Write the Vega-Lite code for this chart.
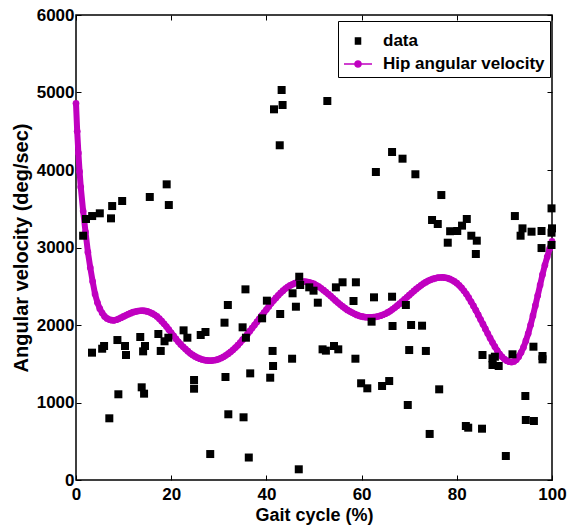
{
  "$schema": "https://vega.github.io/schema/vega-lite/v6.json",
  "width": 476,
  "height": 465,
  "autosize": {"type": "none"},
  "padding": {"left": 76, "top": 15, "right": 23, "bottom": 51},
  "background": "white",
  "config": {
    "view": {"stroke": "black", "strokeWidth": 1.5},
    "font": "Liberation Sans",
    "axis": {"labelFont": "Liberation Sans", "titleFont": "Liberation Sans", "labelFontWeight": "bold", "titleFontWeight": "bold", "labelColor": "black", "titleColor": "black", "tickColor": "black", "tickWidth": 1, "grid": false, "domain": false, "labelFlush": false, "labelOverlap": false}
  },
  "datasets": {
    "pts": [
      {"x": 1.5, "y": 3152}, {"x": 2.1, "y": 3368}, {"x": 3.4, "y": 3406}, {"x": 5.0, "y": 3441}, {"x": 7.35, "y": 3376},
      {"x": 7.6, "y": 3535}, {"x": 9.7, "y": 3600}, {"x": 15.5, "y": 3652}, {"x": 19.05, "y": 3815}, {"x": 19.5, "y": 3548},
      {"x": 43.2, "y": 5032}, {"x": 43.4, "y": 4839}, {"x": 41.6, "y": 4783}, {"x": 52.8, "y": 4890}, {"x": 42.8, "y": 4319},
      {"x": 66.4, "y": 4232}, {"x": 68.6, "y": 4146}, {"x": 63.0, "y": 3974}, {"x": 71.3, "y": 3945}, {"x": 76.75, "y": 3677},
      {"x": 74.8, "y": 3355}, {"x": 76.0, "y": 3303}, {"x": 78.6, "y": 3210}, {"x": 78.1, "y": 3062}, {"x": 82.1, "y": 3368},
      {"x": 81.1, "y": 3282}, {"x": 80.1, "y": 3213}, {"x": 83.05, "y": 3152}, {"x": 84.2, "y": 3088}, {"x": 92.2, "y": 3406},
      {"x": 93.8, "y": 3247}, {"x": 93.4, "y": 3152}, {"x": 95.7, "y": 3204}, {"x": 97.8, "y": 3213}, {"x": 99.9, "y": 3505},
      {"x": 100, "y": 3247}, {"x": 99.9, "y": 3191}, {"x": 97.8, "y": 2993}, {"x": 99.9, "y": 3032}, {"x": 84.0, "y": 2916},
      {"x": 69.3, "y": 2258}, {"x": 70.4, "y": 2000}, {"x": 72.7, "y": 1991}, {"x": 70.0, "y": 1677}, {"x": 73.5, "y": 1665},
      {"x": 85.4, "y": 1613}, {"x": 87.5, "y": 1570}, {"x": 88.0, "y": 1591}, {"x": 87.5, "y": 1484}, {"x": 88.8, "y": 1471},
      {"x": 91.7, "y": 1622}, {"x": 96.1, "y": 1720}, {"x": 98.0, "y": 1600}, {"x": 98.0, "y": 1557}, {"x": 76.3, "y": 1170},
      {"x": 69.7, "y": 968}, {"x": 94.4, "y": 1084}, {"x": 74.3, "y": 594}, {"x": 81.9, "y": 697}, {"x": 82.4, "y": 675},
      {"x": 85.3, "y": 662}, {"x": 94.5, "y": 774}, {"x": 96.2, "y": 761}, {"x": 90.3, "y": 310}, {"x": 46.9, "y": 2623},
      {"x": 47.1, "y": 2516}, {"x": 56.0, "y": 2551}, {"x": 58.8, "y": 2551}, {"x": 54.6, "y": 2486}, {"x": 49.0, "y": 2486},
      {"x": 49.9, "y": 2443}, {"x": 45.5, "y": 2409}, {"x": 40.1, "y": 2314}, {"x": 50.8, "y": 2288}, {"x": 46.2, "y": 2236},
      {"x": 62.6, "y": 2357}, {"x": 66.4, "y": 2365}, {"x": 58.3, "y": 2310}, {"x": 42.9, "y": 2142}, {"x": 39.1, "y": 2086},
      {"x": 62.1, "y": 2043}, {"x": 66.5, "y": 1987}, {"x": 41.3, "y": 1665}, {"x": 41.4, "y": 1471}, {"x": 40.8, "y": 1320},
      {"x": 45.4, "y": 1565}, {"x": 51.8, "y": 1686}, {"x": 52.5, "y": 1669}, {"x": 54.2, "y": 1729}, {"x": 55.1, "y": 1686},
      {"x": 58.7, "y": 1565}, {"x": 59.9, "y": 1248}, {"x": 61.2, "y": 1183}, {"x": 64.3, "y": 1213}, {"x": 65.8, "y": 1277},
      {"x": 36.6, "y": 1376}, {"x": 36.3, "y": 290}, {"x": 46.8, "y": 138}, {"x": 31.9, "y": 2258}, {"x": 35.6, "y": 2460},
      {"x": 31.2, "y": 2030}, {"x": 35.0, "y": 1970}, {"x": 35.7, "y": 1836}, {"x": 3.36, "y": 1643}, {"x": 5.5, "y": 1694},
      {"x": 5.9, "y": 1729}, {"x": 8.7, "y": 1806}, {"x": 10.3, "y": 1729}, {"x": 10.5, "y": 1613}, {"x": 13.5, "y": 1845},
      {"x": 14.5, "y": 1729}, {"x": 14.1, "y": 1660}, {"x": 17.3, "y": 1884}, {"x": 17.8, "y": 1665}, {"x": 18.6, "y": 1790},
      {"x": 19.4, "y": 1836}, {"x": 22.6, "y": 1931}, {"x": 23.4, "y": 1836}, {"x": 26.2, "y": 1871}, {"x": 27.2, "y": 1910},
      {"x": 24.8, "y": 1290}, {"x": 24.8, "y": 1178}, {"x": 13.8, "y": 1196}, {"x": 14.3, "y": 1114}, {"x": 8.9, "y": 1106},
      {"x": 7.0, "y": 796}, {"x": 31.4, "y": 1329}, {"x": 32.0, "y": 848}, {"x": 35.2, "y": 809}, {"x": 28.2, "y": 335}
    ],
    "curve": [
      {"x": 0, "y": 4860}, {"x": 0.25, "y": 4500}, {"x": 0.5, "y": 4220}, {"x": 0.75, "y": 3980}, {"x": 1, "y": 3780},
      {"x": 1.5, "y": 3470}, {"x": 2, "y": 3200}, {"x": 2.5, "y": 2940}, {"x": 3, "y": 2740}, {"x": 3.5, "y": 2560},
      {"x": 4, "y": 2400}, {"x": 4.5, "y": 2290}, {"x": 5, "y": 2210}, {"x": 5.5, "y": 2155}, {"x": 6, "y": 2110},
      {"x": 6.5, "y": 2085}, {"x": 7, "y": 2070}, {"x": 7.5, "y": 2062}, {"x": 8, "y": 2060}, {"x": 8.5, "y": 2068},
      {"x": 9, "y": 2080}, {"x": 9.5, "y": 2095}, {"x": 10, "y": 2110}, {"x": 10.5, "y": 2125}, {"x": 11, "y": 2140},
      {"x": 11.5, "y": 2153}, {"x": 12, "y": 2165}, {"x": 12.5, "y": 2173}, {"x": 13, "y": 2180}, {"x": 13.5, "y": 2184},
      {"x": 14, "y": 2185}, {"x": 14.5, "y": 2181}, {"x": 15, "y": 2175}, {"x": 15.5, "y": 2164}, {"x": 16, "y": 2150},
      {"x": 16.5, "y": 2132}, {"x": 17, "y": 2110}, {"x": 17.5, "y": 2082}, {"x": 18, "y": 2050}, {"x": 18.5, "y": 2016},
      {"x": 19, "y": 1980}, {"x": 19.5, "y": 1940}, {"x": 20, "y": 1900}, {"x": 20.5, "y": 1860}, {"x": 21, "y": 1820},
      {"x": 21.5, "y": 1784}, {"x": 22, "y": 1750}, {"x": 22.5, "y": 1719}, {"x": 23, "y": 1690}, {"x": 23.5, "y": 1662},
      {"x": 24, "y": 1635}, {"x": 24.5, "y": 1614}, {"x": 25, "y": 1595}, {"x": 25.5, "y": 1579}, {"x": 26, "y": 1565},
      {"x": 26.5, "y": 1555}, {"x": 27, "y": 1548}, {"x": 27.5, "y": 1543}, {"x": 28, "y": 1540}, {"x": 28.5, "y": 1541},
      {"x": 29, "y": 1545}, {"x": 29.5, "y": 1551}, {"x": 30, "y": 1560}, {"x": 30.5, "y": 1574}, {"x": 31, "y": 1590},
      {"x": 31.5, "y": 1609}, {"x": 32, "y": 1630}, {"x": 32.5, "y": 1654}, {"x": 33, "y": 1680}, {"x": 33.5, "y": 1709},
      {"x": 34, "y": 1740}, {"x": 34.5, "y": 1774}, {"x": 35, "y": 1810}, {"x": 35.5, "y": 1845}, {"x": 36, "y": 1880},
      {"x": 36.5, "y": 1920}, {"x": 37, "y": 1960}, {"x": 37.5, "y": 2000}, {"x": 38, "y": 2040}, {"x": 38.5, "y": 2080},
      {"x": 39, "y": 2120}, {"x": 39.5, "y": 2160}, {"x": 40, "y": 2200}, {"x": 40.5, "y": 2240}, {"x": 41, "y": 2280},
      {"x": 41.5, "y": 2316}, {"x": 42, "y": 2350}, {"x": 42.5, "y": 2383}, {"x": 43, "y": 2415}, {"x": 43.5, "y": 2443},
      {"x": 44, "y": 2470}, {"x": 44.5, "y": 2491}, {"x": 45, "y": 2510}, {"x": 45.5, "y": 2526}, {"x": 46, "y": 2540},
      {"x": 46.5, "y": 2548}, {"x": 47, "y": 2555}, {"x": 47.5, "y": 2558}, {"x": 48, "y": 2560}, {"x": 48.5, "y": 2556},
      {"x": 49, "y": 2550}, {"x": 49.5, "y": 2541}, {"x": 50, "y": 2530}, {"x": 50.5, "y": 2513}, {"x": 51, "y": 2495},
      {"x": 51.5, "y": 2473}, {"x": 52, "y": 2450}, {"x": 52.5, "y": 2425}, {"x": 53, "y": 2400}, {"x": 53.5, "y": 2373},
      {"x": 54, "y": 2345}, {"x": 54.5, "y": 2317}, {"x": 55, "y": 2290}, {"x": 55.5, "y": 2264}, {"x": 56, "y": 2240},
      {"x": 56.5, "y": 2217}, {"x": 57, "y": 2195}, {"x": 57.5, "y": 2177}, {"x": 58, "y": 2160}, {"x": 58.5, "y": 2144},
      {"x": 59, "y": 2130}, {"x": 59.5, "y": 2119}, {"x": 60, "y": 2110}, {"x": 60.5, "y": 2104}, {"x": 61, "y": 2100},
      {"x": 61.5, "y": 2099}, {"x": 62, "y": 2100}, {"x": 62.5, "y": 2102}, {"x": 63, "y": 2105}, {"x": 63.5, "y": 2112},
      {"x": 64, "y": 2120}, {"x": 64.5, "y": 2132}, {"x": 65, "y": 2145}, {"x": 65.5, "y": 2162}, {"x": 66, "y": 2180},
      {"x": 66.5, "y": 2202}, {"x": 67, "y": 2225}, {"x": 67.5, "y": 2250}, {"x": 68, "y": 2275}, {"x": 68.5, "y": 2302},
      {"x": 69, "y": 2330}, {"x": 69.5, "y": 2357}, {"x": 70, "y": 2385}, {"x": 70.5, "y": 2412}, {"x": 71, "y": 2440},
      {"x": 71.5, "y": 2465}, {"x": 72, "y": 2490}, {"x": 72.5, "y": 2513}, {"x": 73, "y": 2535}, {"x": 73.5, "y": 2553},
      {"x": 74, "y": 2570}, {"x": 74.5, "y": 2583}, {"x": 75, "y": 2595}, {"x": 75.5, "y": 2603}, {"x": 76, "y": 2610},
      {"x": 76.5, "y": 2613}, {"x": 77, "y": 2615}, {"x": 77.5, "y": 2611}, {"x": 78, "y": 2605}, {"x": 78.5, "y": 2594},
      {"x": 79, "y": 2580}, {"x": 79.5, "y": 2562}, {"x": 80, "y": 2540}, {"x": 80.5, "y": 2512}, {"x": 81, "y": 2480},
      {"x": 81.5, "y": 2442}, {"x": 82, "y": 2400}, {"x": 82.5, "y": 2352}, {"x": 83, "y": 2300}, {"x": 83.5, "y": 2246},
      {"x": 84, "y": 2190}, {"x": 84.5, "y": 2130}, {"x": 85, "y": 2070}, {"x": 85.5, "y": 2010}, {"x": 86, "y": 1950},
      {"x": 86.5, "y": 1890}, {"x": 87, "y": 1830}, {"x": 87.5, "y": 1774}, {"x": 88, "y": 1720}, {"x": 88.5, "y": 1670},
      {"x": 89, "y": 1625}, {"x": 89.5, "y": 1590}, {"x": 90, "y": 1560}, {"x": 90.5, "y": 1540}, {"x": 91, "y": 1527},
      {"x": 91.5, "y": 1522}, {"x": 92, "y": 1530}, {"x": 92.5, "y": 1553}, {"x": 93, "y": 1590}, {"x": 93.5, "y": 1644},
      {"x": 94, "y": 1710}, {"x": 94.5, "y": 1794}, {"x": 95, "y": 1890}, {"x": 95.5, "y": 2000}, {"x": 96, "y": 2120},
      {"x": 96.5, "y": 2250}, {"x": 97, "y": 2380}, {"x": 97.5, "y": 2515}, {"x": 98, "y": 2650}, {"x": 98.5, "y": 2770},
      {"x": 99, "y": 2880}, {"x": 99.5, "y": 2985}, {"x": 100, "y": 3080}
    ]
  },
  "layer": [
    {
      "data": {"name": "curve"},
      "transform": [{"calculate": "'Hip angular velocity'", "as": "series"}],
      "mark": {"type": "line", "strokeWidth": 6},
      "encoding": {
        "x": {"field": "x", "type": "quantitative", "scale": {"domain": [0, 100], "nice": false},
              "axis": {"orient": "top", "labels": false, "title": null, "tickSize": -5, "values": [0, 20, 40, 60, 80, 100]}},
        "y": {"field": "y", "type": "quantitative", "scale": {"domain": [0, 6000], "nice": false},
              "axis": {"orient": "right", "labels": false, "title": null, "tickSize": -5, "values": [0, 1000, 2000, 3000, 4000, 5000, 6000]}},
        "color": {"field": "series", "type": "nominal", "scale": {"domain": ["data", "Hip angular velocity"], "range": ["black", "#c000c0"]},
                  "legend": {"orient": "none", "legendX": 262, "legendY": 6, "title": null,
                             "strokeColor": "black", "fillColor": "white", "padding": 5,
                             "labelFont": "Liberation Sans", "labelFontSize": 17, "labelFontWeight": "bold", "labelColor": "black", "labelLimit": 400,
                             "symbolSize": 784, "labelOffset": 10, "rowPadding": 0,
                             "encode": {"symbols": {"update": {
                               "shape": {"signal": "datum.value == 'data' ? 'M-0.18,-0.22H0.18V0.22H-0.18Z' : 'M-1,0H1M0.22,0A0.22,0.22 0 1 1 -0.22,0A0.22,0.22 0 1 1 0.22,0'"},
                               "fill": {"signal": "datum.value == 'data' ? 'black' : '#c000c0'"},
                               "stroke": {"signal": "datum.value == 'data' ? 'black' : '#c000c0'"},
                               "strokeWidth": {"value": 1.5},
                               "opacity": {"value": 1}
                             }}}}}
      }
    },
    {
      "data": {"name": "curve"},
      "transform": [{"calculate": "'Hip angular velocity'", "as": "series"}],
      "mark": {"type": "point", "shape": "circle", "filled": true, "size": 45, "opacity": 1},
      "encoding": {
        "x": {"field": "x", "type": "quantitative", "axis": null},
        "y": {"field": "y", "type": "quantitative", "axis": null},
        "color": {"field": "series", "type": "nominal"}
      }
    },
    {
      "data": {"name": "pts"},
      "transform": [{"calculate": "'data'", "as": "series"}],
      "mark": {"type": "point", "shape": "square", "filled": true, "size": 64, "opacity": 1},
      "encoding": {
        "x": {"field": "x", "type": "quantitative",
              "axis": {"orient": "bottom", "title": "Gait cycle (%)", "tickSize": -5, "values": [0, 20, 40, 60, 80, 100], "labelFontSize": 17, "titleFontSize": 18, "labelPadding": 11, "titlePadding": 4}},
        "y": {"field": "y", "type": "quantitative",
              "axis": {"orient": "left", "title": "Angular velocity (deg/sec)", "tickSize": -5, "values": [0, 1000, 2000, 3000, 4000, 5000, 6000], "format": "d", "labelFontSize": 17, "titleFontSize": 20, "labelPadding": 7, "titlePadding": 5}},
        "color": {"field": "series", "type": "nominal"}
      }
    }
  ],
  "resolve": {"axis": {"x": "independent", "y": "independent"}}
}
